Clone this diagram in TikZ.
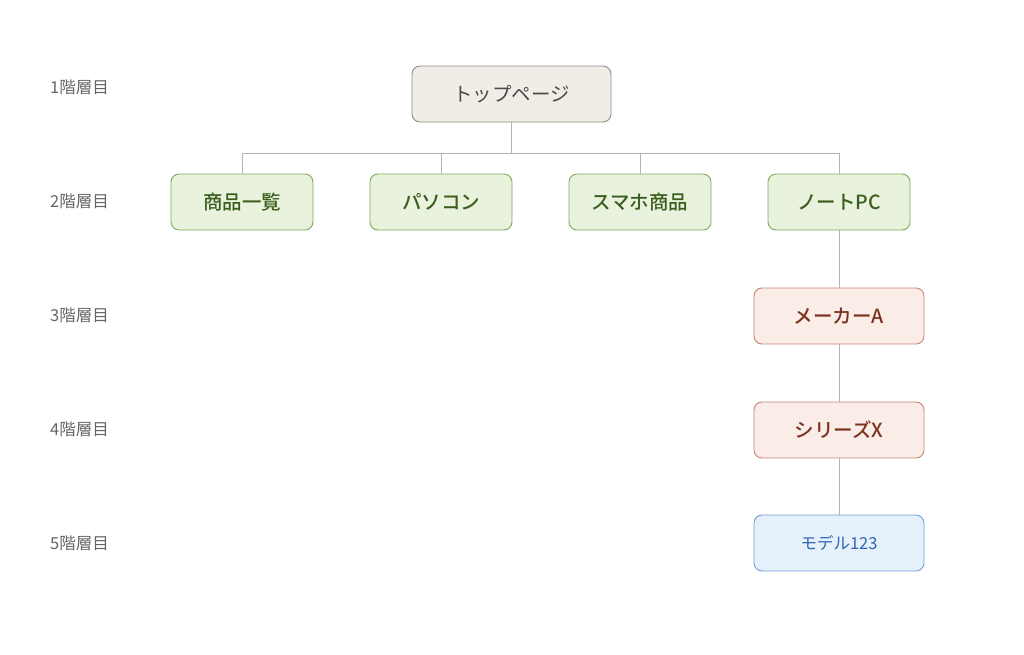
\documentclass[tikz,border=0pt]{standalone}
\usepackage{fontspec}
\setmainfont{Noto Sans CJK JP}
\newfontfamily\medfont{Noto Sans CJK JP Medium}
\usetikzlibrary{positioning}
\definecolor{linegray}{HTML}{B4B4B4}
\definecolor{topfill}{HTML}{F0EDE6}
\definecolor{topdraw}{HTML}{8E8A84}
\definecolor{topText}{HTML}{4A4A4A}
\definecolor{greenfill}{HTML}{E8F2DC}
\definecolor{greendraw}{HTML}{7DAA5A}
\definecolor{greenText}{HTML}{3B5E1F}
\definecolor{redfill}{HTML}{FAECE6}
\definecolor{reddraw}{HTML}{C98470}
\definecolor{redText}{HTML}{7A3320}
\definecolor{bluefill}{HTML}{E5F0FA}
\definecolor{bluedraw}{HTML}{6EA0D6}
\definecolor{blueText}{HTML}{2E67AE}
\definecolor{labelgray}{HTML}{666666}

\begin{document}
\begin{tikzpicture}[x=1pt,y=-1pt,
 box/.style={draw,rounded corners=8pt,line width=0.9pt,minimum height=56pt,inner sep=0pt},
 topbox/.style={box,fill=topfill,draw=topdraw,text=topText,minimum width=199pt,font=\fontsize{19.5}{22}\selectfont},
 catbox/.style={box,fill=greenfill,draw=greendraw,text=greenText,minimum width=142pt,font=\fontsize{19.5}{22}\medfont},
 makerbox/.style={box,fill=redfill,draw=reddraw,text=redText,minimum width=170pt,font=\fontsize{19.5}{22}\medfont},
 modelbox/.style={box,fill=bluefill,draw=bluedraw,text=blueText,minimum width=170pt,font=\fontsize{16.5}{20}\selectfont},
 level/.style={anchor=west,text=labelgray,inner sep=0pt,font=\fontsize{16.5}{18}\selectfont},
 link/.style={draw=linegray,line width=1pt}]
 \useasboundingbox (0,0) rectangle (1024,654);
 \node[level] (lv1) at (50,87) {1階層目};
 \node[level] (lv2) at (50,201) {2階層目};
 \node[level] (lv3) at (50,315) {3階層目};
 \node[level] (lv4) at (50,429) {4階層目};
 \node[level] (lv5) at (50,543) {5階層目};
 \node[topbox] (top) at (511.5,94) {トップページ};
 \node[catbox] (shohin) at (242,202) {商品一覧};
 \node[catbox] (pasokon) at (441,202) {パソコン};
 \node[catbox] (sumaho) at (640,202) {スマホ商品};
 \node[catbox] (note) at (839,202) {ノートPC};
 \node[makerbox] (maker) at (839,316) {メーカーA};
 \node[makerbox] (series) at (839,430) {シリーズX};
 \node[modelbox] (model) at (839,543) {モデル123};
 \coordinate (bus) at (511.5,153);
 \draw[link] (top) -- (bus);
 \foreach \n in {shohin,pasokon,sumaho,note}
  \draw[link] (bus) -| (\n.north);
 \draw[link] (note) -- (maker);
 \draw[link] (maker) -- (series);
 \draw[link] (series) -- (model);
\end{tikzpicture}
\end{document}
